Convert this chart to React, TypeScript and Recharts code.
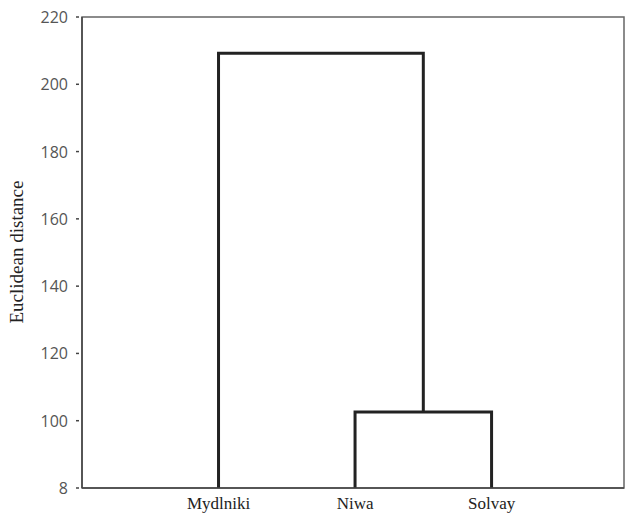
import { ComposedChart, Line, XAxis, YAxis, ReferenceArea } from 'recharts'

// leaves of the dendrogram, left to right
const leaves = ['Mydlniki', 'Niwa', 'Solvay']
const leafPos = [1, 2, 3]
// merge heights (euclidean distance)
const mergeNiwaSolvay = 102.6
const mergeAll = 209.2
const yTicks = [80, 100, 120, 140, 160, 180, 200, 220]
const yTickLabels = ['8', '100', '120', '140', '160', '180', '200', '220']
const base = 80
const xMax = 3.97

// link paths built from the leaves and merge heights
const clusterMid = (leafPos[1] + leafPos[2]) / 2
const linkInner = [
  { x: leafPos[1], y: base },
  { x: leafPos[1], y: mergeNiwaSolvay },
  { x: leafPos[2], y: mergeNiwaSolvay },
  { x: leafPos[2], y: base },
]
const linkOuter = [
  { x: leafPos[0], y: base },
  { x: leafPos[0], y: mergeAll },
  { x: clusterMid, y: mergeAll },
  { x: clusterMid, y: mergeNiwaSolvay },
]

if (typeof document !== 'undefined') {
  document.documentElement.style.overflow = 'hidden'
  document.body.style.overflow = 'hidden'
  document.body.style.margin = '0'
}

const YTick = (props: any) => {
  const { x, y, payload } = props
  const i = yTicks.indexOf(payload.value)
  return (
    <g>
      <line x1={x + 8} x2={x + 11} y1={y} y2={y} stroke="#444" strokeWidth={1.5} />
      <text x={x} y={y} dy={6} textAnchor="end" fill="#555" fontSize={16} fontFamily="'Open Sans', sans-serif">
        {yTickLabels[i]}
      </text>
    </g>
  )
}

export default function App() {
  return (
    <div style={{ width: 625, height: 515, overflow: 'hidden', background: '#fff' }}>
      <ComposedChart width={625} height={515} margin={{ top: 17, right: 1, bottom: 0, left: 0 }}>
        <XAxis
          type="number"
          dataKey="x"
          domain={[0, xMax]}
          ticks={leafPos}
          height={27}
          tickFormatter={(v: number) => leaves[leafPos.indexOf(v)]}
          tickLine={false}
          tickMargin={3}
          axisLine={{ stroke: '#444', strokeWidth: 1.5 }}
          tick={{ fill: '#222', fontSize: 17, fontFamily: "'Liberation Serif', serif" }}
          allowDuplicatedCategory={false}
        />
        <YAxis
          type="number"
          domain={[80, 220]}
          ticks={yTicks}
          width={82}
          tickLine={false}
          tickMargin={8}
          axisLine={{ stroke: '#444', strokeWidth: 1.5 }}
          tick={<YTick />}
          label={{
            content: () => (
              <text
                x={23}
                y={252}
                transform="rotate(-90, 23, 252)"
                textAnchor="middle"
                fill="#222"
                fontSize={19}
                fontFamily="'Liberation Serif', serif"
              >
                Euclidean distance
              </text>
            ),
          }}
        />
        <ReferenceArea x1={0} x2={xMax} y1={80} y2={220} fill="none" stroke="#666" strokeWidth={1.5} ifOverflow="visible" />
        <Line data={linkOuter} dataKey="y" type="linear" stroke="#222" strokeWidth={3} dot={false} isAnimationActive={false} />
        <Line data={linkInner} dataKey="y" type="linear" stroke="#222" strokeWidth={3} dot={false} isAnimationActive={false} />
      </ComposedChart>
    </div>
  )
}
